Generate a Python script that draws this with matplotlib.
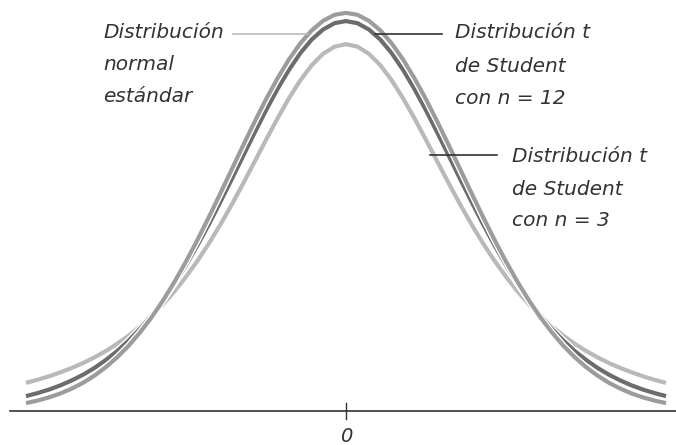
import numpy as np
import matplotlib
matplotlib.use("Agg")
import matplotlib.pyplot as plt
import matplotlib.patheffects as pe

# valores (mitad derecha, la curva es simétrica)
x_half = [0.0, 0.1, 0.2, 0.3, 0.4, 0.5, 0.6, 0.7, 0.8, 0.9, 1.0, 1.1, 1.2, 1.3, 1.4,
          1.5, 1.6, 1.7, 1.8, 1.9, 2.0, 2.1, 2.2, 2.3, 2.4, 2.5, 2.6, 2.7, 2.8]
normal_half = [0.3989, 0.3970, 0.3910, 0.3814, 0.3683, 0.3521, 0.3332, 0.3123, 0.2897, 0.2661,
               0.2420, 0.2179, 0.1942, 0.1714, 0.1497, 0.1295, 0.1109, 0.0940, 0.0790, 0.0656,
               0.0540, 0.0440, 0.0355, 0.0283, 0.0224, 0.0175, 0.0136, 0.0104, 0.0079]
t12_half = [0.3907, 0.3886, 0.3823, 0.3722, 0.3585, 0.3417, 0.3224, 0.3012, 0.2787, 0.2555,
            0.2322, 0.2093, 0.1870, 0.1659, 0.1461, 0.1278, 0.1112, 0.0961, 0.0826, 0.0707,
            0.0602, 0.0512, 0.0432, 0.0364, 0.0306, 0.0256, 0.0214, 0.0179, 0.0149]
t3_half = [0.3676, 0.3651, 0.3580, 0.3465, 0.3313, 0.3132, 0.2930, 0.2716, 0.2497, 0.2279,
           0.2067, 0.1866, 0.1678, 0.1504, 0.1345, 0.1200, 0.1070, 0.0954, 0.0850, 0.0757,
           0.0675, 0.0602, 0.0538, 0.0481, 0.0431, 0.0387, 0.0347, 0.0312, 0.0282]

tick_label = "0"


def mirror(vals, neg=False):
    vals = np.array(vals)
    left = -vals[::-1] if neg else vals[::-1]
    return np.concatenate([left, vals[1:]])


x = mirror(x_half, neg=True)

W, H = 676, 445
fig = plt.figure(figsize=(W / 100, H / 100), dpi=100)
ax = fig.add_axes([0, 0, 1, 1])
ax.set_xlim(-346 / 114.3, (W - 346) / 114.3)
ax.set_ylim(-(H - 411) / 998, 411 / 998)
ax.axis("off")

halo = [pe.Stroke(linewidth=5.0, foreground="white"), pe.Normal()]
line_kw = dict(lw=3.0, solid_capstyle="butt", solid_joinstyle="round", path_effects=halo)
ax.plot(x, mirror(t3_half), color="#b9b9b9", zorder=2, **line_kw)
ax.plot(x, mirror(t12_half), color="#6c6c6c", zorder=3, **line_kw)
ax.plot(x, mirror(normal_half), color="#9c9c9c", zorder=4, **line_kw)

# eje horizontal y marca en 0
ax.axhline(0, xmin=10 / W, xmax=1, color="#333333", lw=1.2, zorder=1)
ax.plot([0, 0], [-0.0078, 0.0078], color="#333333", lw=1.0)
ax.text(0, -0.026, tick_label, ha="center", va="center", fontsize=14,
        style="italic", color="#333333", family="DejaVu Sans")


def fx(px):
    return px / W


def fy(py):
    return 1 - py / H


txt = dict(fontsize=14.5, style="italic", color="#333333", va="center", ha="left",
           family="DejaVu Sans", transform=fig.transFigure)

# etiquetas
for s, py in [("Distribución", 33), ("normal", 65), ("estándar", 97)]:
    fig.text(fx(103), fy(py), s, **txt)
fig.add_artist(plt.Line2D([fx(233), fx(308)], [fy(34), fy(34)], color="#bbbbbb", lw=1.2))

for s, py in [("Distribución t", 33), ("de Student", 66), ("con n = 12", 98)]:
    fig.text(fx(455), fy(py), s, **txt)
fig.add_artist(plt.Line2D([fx(375), fx(442)], [fy(34), fy(34)], color="#333333", lw=1.2))

for s, py in [("Distribución t", 157), ("de Student", 189), ("con n = 3", 221)]:
    fig.text(fx(512), fy(py), s, **txt)
fig.add_artist(plt.Line2D([fx(430), fx(497)], [fy(155), fy(155)], color="#333333", lw=1.2))

fig.savefig("out.png", dpi=100)
